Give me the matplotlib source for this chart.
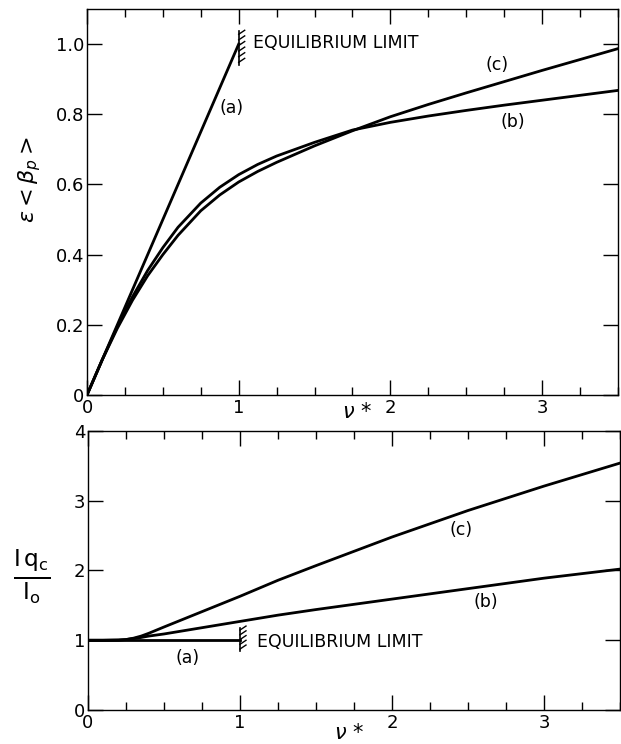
import matplotlib
matplotlib.use('Agg')
import matplotlib.pyplot as plt
from matplotlib.ticker import MultipleLocator, FuncFormatter

# top panel: eps<beta_p> vs nu*
nu_a = [0.0, 1.0]
beta_a = [0.0, 1.0]
nu_bc = [0.0, 0.1, 0.2, 0.3, 0.4, 0.5, 0.6, 0.75, 0.875, 1.0, 1.125, 1.25,
         1.5, 1.75, 2.0, 2.25, 2.5, 2.75, 3.0, 3.25, 3.5]
beta_b = [0.0, 0.10, 0.195, 0.28, 0.355, 0.42, 0.478, 0.547, 0.592, 0.628,
          0.657, 0.681, 0.72, 0.755, 0.777, 0.795, 0.811, 0.826, 0.840, 0.854,
          0.868]
beta_c = [0.0, 0.10, 0.19, 0.27, 0.34, 0.40, 0.455, 0.525, 0.570, 0.607,
          0.637, 0.663, 0.710, 0.753, 0.793, 0.828, 0.861, 0.893, 0.925, 0.956,
          0.987]

# bottom panel: I_qc / I_o vs nu*
nu_a2 = [0.0, 1.0]
iq_a = [1.0, 1.0]
nu_bc2 = [0.0, 0.1, 0.2, 0.25, 0.3, 0.35, 0.4, 0.5, 0.75, 1.0, 1.25, 1.5,
          2.0, 2.5, 3.0, 3.5]
iq_b = [1.0, 1.0, 1.003, 1.01, 1.025, 1.04, 1.06, 1.09, 1.18, 1.27, 1.36,
        1.44, 1.59, 1.74, 1.89, 2.02]
iq_c = [1.0, 1.0, 1.003, 1.01, 1.03, 1.06, 1.10, 1.19, 1.41, 1.63, 1.86,
        2.07, 2.48, 2.86, 3.21, 3.54]

# equilibrium limit markers (x, y_low, y_high)
eq_top = (1.0, 0.94, 1.036)
eq_bot = (1.0, 0.84, 1.18)

fig = plt.figure(figsize=(6.21, 7.44), dpi=100)
ax1 = fig.add_axes([0.1401, 0.4691, 0.855, 0.5188])
ax2 = fig.add_axes([0.1417, 0.0457, 0.8567, 0.375])

lw = 2.0
txt = 12.5


def style(ax, ymaj):
    ax.set_xlim(0, 3.5)
    ax.xaxis.set_major_locator(MultipleLocator(1))
    ax.xaxis.set_minor_locator(MultipleLocator(0.25))
    ax.yaxis.set_major_locator(MultipleLocator(ymaj))
    ax.tick_params(axis='x', which='major', direction='in', length=11, width=1,
                   top=True, labelsize=13, pad=3)
    ax.tick_params(axis='x', which='minor', direction='in', length=6, width=1,
                   top=True)
    ax.tick_params(axis='y', which='major', direction='in', length=11, width=1,
                   right=True, labelsize=13, pad=2)
    for s in ax.spines.values():
        s.set_linewidth(1.0)


def hatch(ax, x, y0, y1, n):
    # vertical bar with short slanted strokes on the right
    ax.plot([x, x], [y0, y1], color='black', lw=1.2)
    inv = ax.transData.inverted()
    for i in range(n):
        y = y0 + (y1 - y0) * (i + 0.5) / n
        px, py = ax.transData.transform((x, y))
        xa, ya = inv.transform((px + 6, py + 4))
        ax.plot([x, xa], [y, ya], color='black', lw=1.0)


# top
style(ax1, 0.2)
ax1.set_ylim(0, 1.1)
ax1.yaxis.set_major_formatter(FuncFormatter(lambda v, p: '0' if abs(v) < 1e-9 else f'{v:.1f}'))
ax1.plot(nu_a, beta_a, color='black', lw=lw)
ax1.plot(nu_bc, beta_b, color='black', lw=lw)
ax1.plot(nu_bc, beta_c, color='black', lw=lw)
hatch(ax1, eq_top[0], eq_top[1], eq_top[2], 6)
ax1.text(1.094, 1.004, 'EQUILIBRIUM LIMIT', fontsize=txt, va='center', ha='left')
ax1.text(0.956, 0.818, '(a)', fontsize=txt, ha='center', va='center')
ax1.text(2.70, 0.941, '(c)', fontsize=txt, ha='center', va='center')
ax1.text(2.81, 0.778, '(b)', fontsize=txt, ha='center', va='center')
ax1.annotate(r'$\nu$ *', xy=(1.78, -0.044), xycoords=('data', 'axes fraction'),
             fontsize=15, ha='center', va='center')

# bottom
style(ax2, 1)
ax2.set_ylim(0, 4)
ax2.plot(nu_a2, iq_a, color='black', lw=lw)
ax2.plot(nu_bc2, iq_b, color='black', lw=lw)
ax2.plot(nu_bc2, iq_c, color='black', lw=lw)
hatch(ax2, eq_bot[0], eq_bot[1], eq_bot[2], 5)
ax2.text(1.11, 0.975, 'EQUILIBRIUM LIMIT', fontsize=txt, va='center', ha='left')
ax2.text(0.657, 0.745, '(a)', fontsize=txt, ha='center', va='center')
ax2.text(2.456, 2.58, '(c)', fontsize=txt, ha='center', va='center')
ax2.text(2.62, 1.55, '(b)', fontsize=txt, ha='center', va='center')
ax2.annotate(r'$\nu$ *', xy=(1.72, -0.082), xycoords=('data', 'axes fraction'),
             fontsize=15, ha='center', va='center', annotation_clip=False)

fig.text(30 / 621, 1 - 180 / 744, r'$\epsilon<\beta_p>$', rotation=90,
         fontsize=16, ha='center', va='center')
fig.text(32 / 621, 1 - 577 / 744, r'$\frac{\mathrm{I\,q_c}}{\mathrm{I_o}}$',
         fontsize=24, ha='center', va='center')

fig.savefig('out.png', dpi=100)
